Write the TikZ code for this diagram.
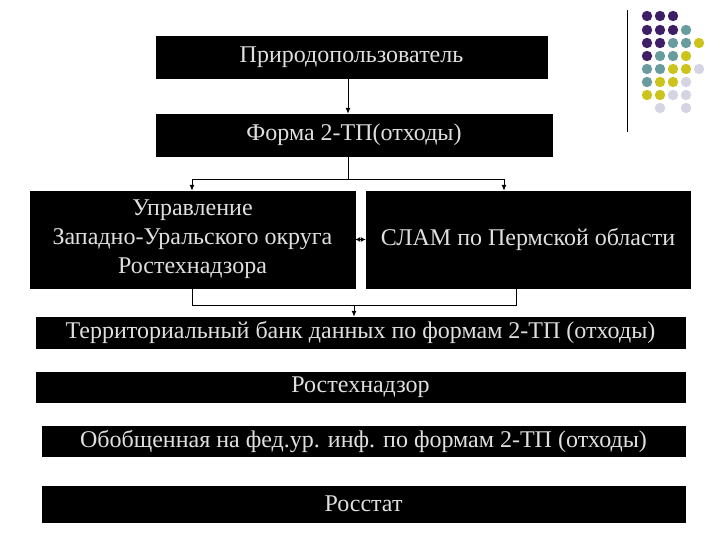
\documentclass[tikz,border=0pt]{standalone}
\usepackage{fontspec}
\setmainfont{Liberation Serif}
\usetikzlibrary{arrows.meta}
\begin{document}
\begin{tikzpicture}[x=1pt,y=-1pt,
  box/.style={fill=black,draw=black,text=gray!25,align=center,inner sep=0pt,font=\fontsize{24}{29}\selectfont},
  con/.style={draw=black,line width=1pt,-{Latex[length=6pt,width=5pt]}},
  dP/.style={fill={rgb,255:red,62;green,30;blue,100}},dT/.style={fill={rgb,255:red,104;green,156;blue,158}},dY/.style={fill={rgb,255:red,204;green,196;blue,28}},dL/.style={fill={rgb,255:red,212;green,212;blue,226}},dN/.style={fill=none}]
\useasboundingbox (0,0) rectangle (720,540);
\node[box,minimum width=391,minimum height=42] (b1) at (351.5,57) {Природопользователь};
\node[box,minimum width=396,minimum height=42] (b2) at (354,135) {Форма 2-ТП(отходы)};
\node[box,minimum width=325,minimum height=97] (b3) at (192.5,239.5) {Управление\\Западно-Уральского округа\\Ростехнадзора};
\node[box,minimum width=324,minimum height=97] (b4) at (528,239.5) {СЛАМ по Пермской области};
\node[box,minimum width=649,minimum height=31] (b5) at (360.5,332.5) {Территориальный банк данных по формам 2-ТП (отходы)};
\node[box,minimum width=649,minimum height=30] (b6) at (360.5,387) {Ростехнадзор};
\node[box,minimum width=643,minimum height=30] (b7) at (363.5,441) {Обобщенная на фед.ур. инф. по формам 2-ТП (отходы)};
\node[box,minimum width=643,minimum height=36] (b8) at (363.5,504) {Росстат};
\coordinate (s1) at (348,180);
\coordinate (s2) at (354,305);
\draw[con] (b1.south -| s1) -- (b2.north -| s1);
\draw[line width=1pt] (b2.south -| s1) -- (s1);
\draw[con] (s1) -| (b3.north -| 192,0);
\draw[con] (s1) -| (b4.north -| 504,0);
\draw[line width=1pt] (b3.south -| 192,0) |- (s2);
\draw[line width=1pt] (b4.south -| 516,0) |- (s2);
\draw[con] (s2) -- (b5.north -| s2);
\draw[line width=1pt,{Latex[length=5pt,width=5pt]}-{Latex[length=5pt,width=5pt]}] (b3.east) -- (b4.west);
\coordinate (v1) at (627,10); \coordinate (v2) at (627,132);
\draw[line width=1pt] (v1) -- (v2);
\foreach \r/\row in {16/{P,P,P},30/{P,P,P,T},43/{P,P,T,T,Y},56/{P,T,T,Y},69/{T,T,Y,Y,L},82/{T,Y,Y,L},95/{Y,Y,L,L},108/{N,L,N,L}}{
  \foreach \c [count=\i from 0] in \row {
    \fill[d\c] (647+13*\i,\r) circle (5.2);
  }}
\end{tikzpicture}
\end{document}
